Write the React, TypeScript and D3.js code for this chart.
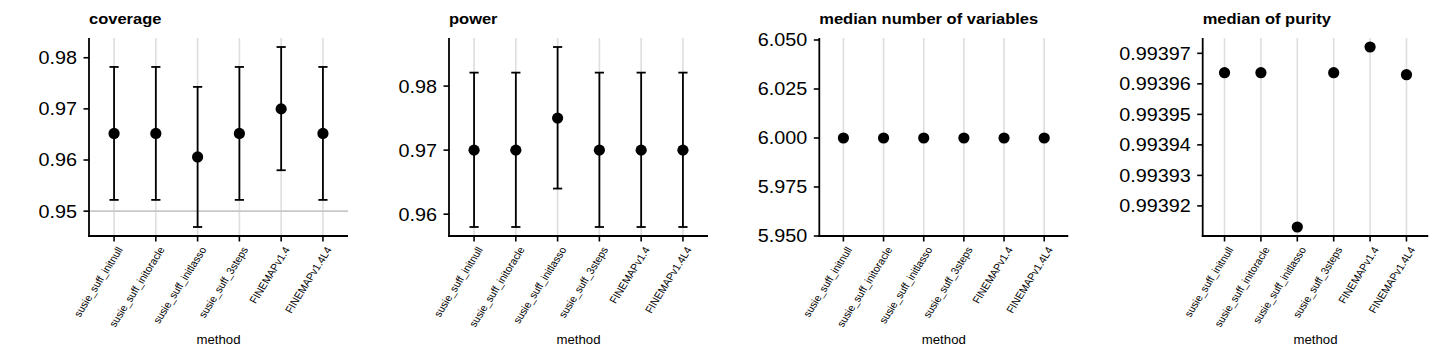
import React from 'react';
import * as d3 from 'd3';

const methods = [
  'susie_suff_initnull',
  'susie_suff_initoracle',
  'susie_suff_initlasso',
  'susie_suff_3steps',
  'FINEMAPv1.4',
  'FINEMAPv1.4L4',
];
const coverage = [0.9652, 0.9652, 0.9606, 0.9652, 0.97, 0.9652];
const coverageLo = [0.9522, 0.9522, 0.9469, 0.9522, 0.958, 0.9522];
const coverageHi = [0.9782, 0.9782, 0.9743, 0.9782, 0.9821, 0.9782];
const power = [0.97, 0.97, 0.975, 0.97, 0.97, 0.97];
const powerLo = [0.958, 0.958, 0.964, 0.958, 0.958, 0.958];
const powerHi = [0.9821, 0.9821, 0.9861, 0.9821, 0.9821, 0.9821];
const medianNVars = [6, 6, 6, 6, 6, 6];
const medianPurity = [0.99396365, 0.99396365, 0.99391309, 0.99396365, 0.99397207, 0.99396299];

const coverageTicks = [0.95, 0.96, 0.97, 0.98];
const powerTicks = [0.96, 0.97, 0.98];
const nvarTicks = [5.95, 5.975, 6.0, 6.025, 6.05];
const purityTicks = [0.99392, 0.99393, 0.99394, 0.99395, 0.99396, 0.99397];
const coverageRef = 0.95;

const FONT = '"Liberation Sans", Arial, Helvetica, sans-serif';
const SX = 1.1;
const TOP = 38;
const BOTTOM = 236;

type Panel = {
  title: string;
  left: number;
  right: number;
  values: number[];
  lo?: number[];
  hi?: number[];
  ticks: number[];
  fmt: string;
  ref?: number;
  fixedDomain?: [number, number];
  fixedTopPx?: number;
};

function expanded(vals: number[]): [number, number] {
  const [a, b] = d3.extent(vals) as [number, number];
  const e = (b - a) * 0.05;
  return [a - e, b + e];
}

const panels: Panel[] = [
  { title: 'coverage', left: 89, right: 348, values: coverage, lo: coverageLo, hi: coverageHi, ticks: coverageTicks, fmt: '.2f', ref: coverageRef },
  { title: 'power', left: 449, right: 708, values: power, lo: powerLo, hi: powerHi, ticks: powerTicks, fmt: '.2f' },
  { title: 'median number of variables', left: 819.3, right: 1068.3, values: medianNVars, ticks: nvarTicks, fmt: '.3f', fixedDomain: [5.95, 6.05], fixedTopPx: 40 },
  { title: 'median of purity', left: 1202.7, right: 1428.3, values: medianPurity, ticks: purityTicks, fmt: '.5f' },
];

function PanelView({ p }: { p: Panel }) {
  const x = d3.scalePoint<string>().domain(methods).range([p.left, p.right]).padding(0.6);
  let y: d3.ScaleLinear<number, number>;
  if (p.fixedDomain) {
    y = d3.scaleLinear().domain(p.fixedDomain).range([BOTTOM, p.fixedTopPx ?? TOP]);
  } else {
    const all = [...p.values, ...(p.lo ?? []), ...(p.hi ?? [])];
    y = d3.scaleLinear().domain(expanded(all)).range([BOTTOM, TOP]);
  }
  const f = d3.format(p.fmt);
  const cx = (p.left + p.right) / 2;
  return (
    <g>
      <text transform={`translate(${p.left},24) scale(${SX},1)`} fontFamily={FONT} fontWeight="bold" fontSize={15} fill="#000">
        {p.title}
      </text>
      {methods.map((m) => (
        <line key={'g' + m} x1={x(m)} x2={x(m)} y1={TOP} y2={BOTTOM} stroke="#dedede" strokeWidth={1.6} />
      ))}
      {p.ref !== undefined && (
        <line x1={p.left} x2={p.right} y1={y(p.ref)} y2={y(p.ref)} stroke="#c8c8c8" strokeWidth={1.6} />
      )}
      {p.lo && p.hi && methods.map((m, i) => (
        <g key={'e' + m} stroke="#000" strokeWidth={1.8}>
          <line x1={x(m)} x2={x(m)} y1={y(p.lo![i])} y2={y(p.hi![i])} />
          <line x1={x(m)! - 4.6} x2={x(m)! + 4.6} y1={y(p.lo![i])} y2={y(p.lo![i])} />
          <line x1={x(m)! - 4.6} x2={x(m)! + 4.6} y1={y(p.hi![i])} y2={y(p.hi![i])} />
        </g>
      ))}
      {methods.map((m, i) => (
        <circle key={'p' + m} cx={x(m)} cy={y(p.values[i])} r={5.6} fill="#000" />
      ))}
      <line x1={p.left} x2={p.left} y1={TOP} y2={BOTTOM + 0.9} stroke="#000" strokeWidth={1.8} />
      <line x1={p.left - 0.9} x2={p.right} y1={BOTTOM} y2={BOTTOM} stroke="#000" strokeWidth={1.8} />
      {p.ticks.map((t) => (
        <g key={'yt' + t}>
          <line x1={p.left - 5.5} x2={p.left} y1={y(t)} y2={y(t)} stroke="#000" strokeWidth={1.6} />
          <text transform={`translate(${p.left - 12},${y(t)}) scale(${SX},1)`} textAnchor="end" dy="0.36em" fontFamily={FONT} fontSize={18} fill="#000">
            {f(t)}
          </text>
        </g>
      ))}
      {methods.map((m) => (
        <g key={'xt' + m}>
          <line x1={x(m)} x2={x(m)} y1={BOTTOM} y2={BOTTOM + 5.5} stroke="#000" strokeWidth={1.6} />
          <text transform={`translate(${x(m)! + 2.5},${BOTTOM + 10}) scale(${SX},1) rotate(-60)`} textAnchor="end" dy="0.7em" fontFamily={FONT} fontSize={10} fill="#000">
            {m}
          </text>
        </g>
      ))}
      <text transform={`translate(${cx},344) scale(${SX},1)`} textAnchor="middle" fontFamily={FONT} fontSize={12} fill="#000">
        method
      </text>
    </g>
  );
}

export default function App() {
  return (
    <svg width={1440} height={360} style={{ position: 'absolute', left: 0, top: 0, background: '#fff' }}>
      <rect x={0} y={0} width={1440} height={360} fill="#fff" />
      {panels.map((p) => (
        <PanelView key={p.title} p={p} />
      ))}
    </svg>
  );
}
